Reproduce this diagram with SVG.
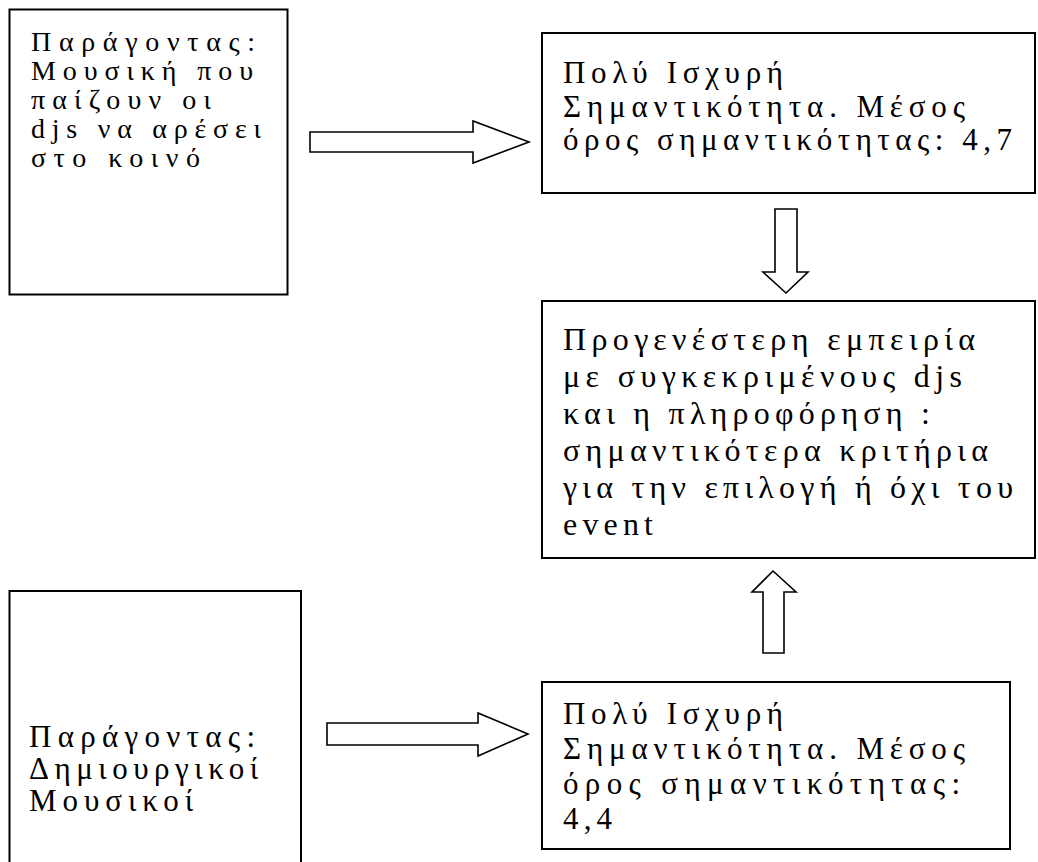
<svg xmlns="http://www.w3.org/2000/svg" width="1038" height="862" viewBox="0 0 1038 862">
  <style>
    .box { fill: #ffffff; stroke: #000000; stroke-width: 2; }
    .arrow { fill: #ffffff; stroke: #000000; stroke-width: 1.6; stroke-linejoin: miter; }
    .t { font-family: "Liberation Serif", "Times New Roman", serif; fill: #000000; }
    .s-a { font-size: 28px; }
    .s-b { font-size: 31px; }
    .s-c { font-size: 32px; }
  </style>
  <rect width="1038" height="862" fill="#ffffff"/>

  <!-- connectors: block arrows between the boxes -->
  <g id="connectors">
    <polygon class="arrow" points="310,132 473,132 473,121 529,142 473,163 473,152 310,152"/>
    <polygon class="arrow" points="775,209 797,209 797,272 808,272 786,293 763,272 775,272"/>
    <polygon class="arrow" points="773,571 796,592 784,592 784,653 763,653 763,592 752,592"/>
    <polygon class="arrow" points="327,723 478,723 478,713 528,734 478,756 478,745 327,745"/>
  </g>

  <!-- factor: music the djs play -->
  <g id="factor-music">
    <rect class="box" x="9.5" y="9.5" width="278" height="285"/>
    <text class="t s-a">
      <tspan x="31" y="51" textLength="224" lengthAdjust="spacing">Παράγοντας:</tspan>
      <tspan x="31" y="80" textLength="222" lengthAdjust="spacing">Μουσική που</tspan>
      <tspan x="31" y="109" textLength="180" lengthAdjust="spacing">παίζουν οι</tspan>
      <tspan x="31" y="138" textLength="230" lengthAdjust="spacing">djs να αρέσει</tspan>
      <tspan x="31" y="167" textLength="169" lengthAdjust="spacing">στο κοινό</tspan>
    </text>
  </g>

  <!-- rating 4,7 -->
  <g id="rating-top">
    <rect class="box" x="542" y="33" width="493" height="160"/>
    <text class="t s-b">
      <tspan x="563" y="83" textLength="220" lengthAdjust="spacing">Πολύ Ισχυρή</tspan>
      <tspan x="563" y="117" textLength="402" lengthAdjust="spacing">Σημαντικότητα. Μέσος</tspan>
      <tspan x="563" y="150" textLength="449" lengthAdjust="spacing">όρος σημαντικότητας: 4,7</tspan>
    </text>
  </g>

  <!-- conclusion -->
  <g id="conclusion">
    <rect class="box" x="542" y="301" width="493" height="257"/>
    <text class="t s-c">
      <tspan x="563" y="350" textLength="412" lengthAdjust="spacing">Προγενέστερη εμπειρία</tspan>
      <tspan x="563" y="387" textLength="399" lengthAdjust="spacing">με συγκεκριμένους djs</tspan>
      <tspan x="563" y="424" textLength="367" lengthAdjust="spacing">και η πληροφόρηση :</tspan>
      <tspan x="563" y="461" textLength="425" lengthAdjust="spacing">σημαντικότερα κριτήρια</tspan>
      <tspan x="563" y="498" textLength="450" lengthAdjust="spacing">για την επιλογή ή όχι του</tspan>
      <tspan x="563" y="535" textLength="90" lengthAdjust="spacing">event</tspan>
    </text>
  </g>

  <!-- factor: creative musicians -->
  <g id="factor-creative">
    <path class="box" d="M9.5,880 V591 H301 V880"/>
    <text class="t s-b">
      <tspan x="29" y="747" textLength="226" lengthAdjust="spacing">Παράγοντας:</tspan>
      <tspan x="29" y="779" textLength="229" lengthAdjust="spacing">Δημιουργικοί</tspan>
      <tspan x="29" y="811" textLength="164" lengthAdjust="spacing">Μουσικοί</tspan>
    </text>
  </g>

  <!-- rating 4,4 -->
  <g id="rating-bottom">
    <rect class="box" x="542" y="682" width="468" height="167"/>
    <text class="t s-b">
      <tspan x="563" y="724" textLength="220" lengthAdjust="spacing">Πολύ Ισχυρή</tspan>
      <tspan x="563" y="759" textLength="402" lengthAdjust="spacing">Σημαντικότητα. Μέσος</tspan>
      <tspan x="563" y="794" textLength="397" lengthAdjust="spacing">όρος σημαντικότητας:</tspan>
      <tspan x="563" y="829" textLength="49" lengthAdjust="spacing">4,4</tspan>
    </text>
  </g>
</svg>
